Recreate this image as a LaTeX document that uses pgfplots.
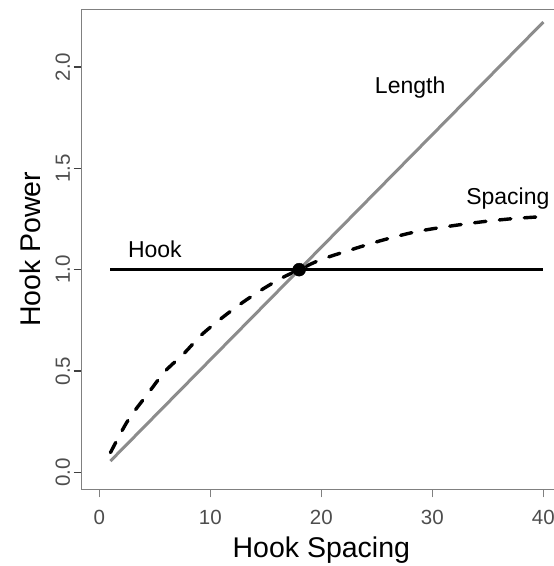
\documentclass[border=0pt]{standalone}
\usepackage{fontspec}
\setmainfont{Liberation Sans}
\usepackage{pgfplots}
\pgfplotsset{compat=1.18}
\definecolor{linegray}{HTML}{8C8C8C}
\definecolor{boxgray}{HTML}{808080}
\definecolor{labgray}{HTML}{4D4D4D}

\begin{document}
\begin{tikzpicture}
% the reference is cut at the right edge, so fix the page to the same window
\useasboundingbox (-81.7pt,-76.7pt) rectangle (472.3pt,489.3pt);
\begin{axis}[
    at={(0,0)}, anchor=south west,
    width=479.3pt, height=480pt, scale only axis,
    xmin=-1.59, xmax=41.59,
    ymin=-0.084, ymax=2.285,
    axis line style={draw=boxgray, line width=1.6pt},
    tick align=outside, tick pos=left,
    major tick length=8pt,
    xtick={0,10,20,30,40},
    ytick={0,0.5,1,1.5,2},
    xtick style={draw=boxgray, line width=1.4pt},
    ytick style={draw=black!75, line width=1.4pt},
    ticklabel style={font=\fontsize{20.5}{24}\selectfont, text=labgray},
    /pgf/number format/assume math mode=true,
    xticklabel style={yshift=-9pt},
    yticklabel={\pgfmathprintnumber[fixed,fixed zerofill,precision=1]{\tick}},
    yticklabel style={rotate=90, anchor=south},
    xlabel={Hook Spacing}, ylabel={Hook Power},
    label style={font=\fontsize{28.5}{34}\selectfont},
    xlabel style={at={(axis description cs:0.5,-0.127)}, anchor=center},
    ylabel style={at={(axis description cs:-0.108,0.5)}, anchor=center},
]
    % Hook
    \addplot[black, line width=3.4pt] coordinates {(1,1) (40,1)};

    % Spacing
    \addplot[black, line width=3.4pt, line cap=round, smooth,
             dash pattern=on 11.5pt off 13.5pt] coordinates {
        (1,0.097) (2.6,0.258) (4.4,0.390) (5.9,0.497) (7.6,0.585)
        (9.2,0.678) (11.0,0.760) (12.8,0.834) (14.6,0.900) (16.4,0.958)
        (18,1.000) (19.9,1.048) (22.6,1.097) (25.6,1.147) (28.6,1.188)
        (31.6,1.215) (34.6,1.237) (37.3,1.252) (40,1.262)
    };

    % crossing point
    \addplot[only marks, mark=*, mark size=6.5pt, black] coordinates {(18,1)};

    % Length
    \addplot[linegray, line width=3pt] coordinates {(1,0.0556) (40,2.222)};

    \node[font=\fontsize{23}{28}\selectfont] at (axis cs:28,1.9) {Length};
    \node[font=\fontsize{23}{28}\selectfont] at (axis cs:36.8,1.35) {Spacing};
    \node[font=\fontsize{23}{28}\selectfont] at (axis cs:5,1.1) {Hook};
\end{axis}
\end{tikzpicture}
\end{document}
